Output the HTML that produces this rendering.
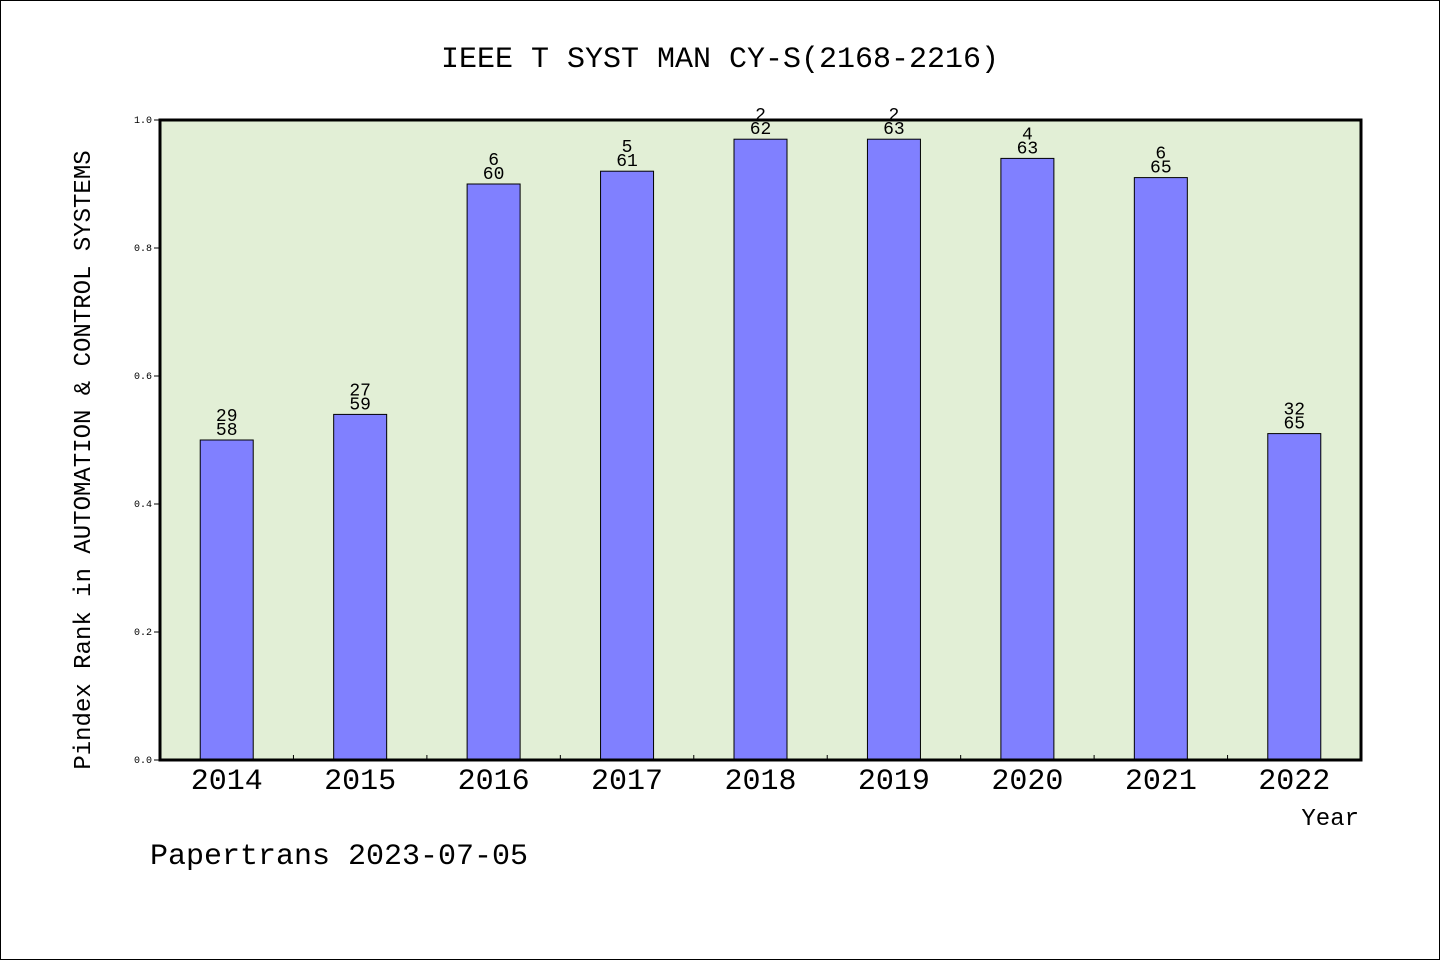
<!DOCTYPE html>
<html><head><meta charset="utf-8"><style>
html,body{margin:0;padding:0;background:#fff}
svg{display:block}
text{font-family:"WenQuanYi Zen Hei","Liberation Mono",monospace}
</style></head><body>
<svg id="c" width="1440" height="960" xmlns="http://www.w3.org/2000/svg">
<rect x="0.5" y="0.5" width="1439" height="959" fill="#fff" stroke="#000"/>
<text x="720" y="67" font-size="30" text-anchor="middle">IEEE T SYST MAN CY-S(2168-2216)</text>
<rect x="160" y="120" width="1201" height="640" fill="#e2efd6"/>
<g id="bars"></g>
<rect x="160" y="120" width="1201" height="640" fill="none" stroke="#000" stroke-width="3"/>
<text x="90" y="460" font-size="24" text-anchor="middle" transform="rotate(-90 90 460)">Pindex Rank in AUTOMATION &amp; CONTROL SYSTEMS</text>
<text x="1359" y="825" font-size="24" text-anchor="end">Year</text>
<text x="150" y="864" font-size="30">Papertrans 2023-07-05</text>
</svg>
<script>
const years = ["2014","2015","2016","2017","2018","2019","2020","2021","2022"];
const values = [0.5,0.54,0.9,0.92,0.97,0.97,0.94,0.91,0.51];
const ranks = ["29","27","6","5","2","2","4","6","32"];
const totals = ["58","59","60","61","62","63","63","65","65"];
const yTicks = ["0.0","0.2","0.4","0.6","0.8","1.0"];
const X0=160,W=1201,Y0=760,H=640;
const ns="http://www.w3.org/2000/svg";
const g=document.getElementById('bars');
const svg=document.getElementById('c');
const step=W/years.length;
function xc(i){return X0+step*(i+0.5);}
function y(v){return Y0-v*H;}
function mk(tag,attrs,parent){const e=document.createElementNS(ns,tag);for(const k in attrs)e.setAttribute(k,attrs[k]);(parent||svg).appendChild(e);return e;}
yTicks.forEach(t=>{const v=parseFloat(t);
 const l=mk('line',{x1:X0-6,x2:X0,y1:y(v),y2:y(v),stroke:'#000'});
 
 
 const tx=mk('text',{x:X0-8,y:y(v)+3,'font-size':10,'text-anchor':'end'});tx.textContent=t;
 
 
});
years.forEach((yr,i)=>{
 const cx=xc(i),top=y(values[i]);
 const r=mk('rect',{x:cx-26.5,y:top,width:53,height:Y0-top,fill:'#8080ff',stroke:'#000','stroke-width':1},g);
 
 
 const a=mk('text',{x:cx,y:top-19,'font-size':18,'text-anchor':'middle'},g);a.textContent=ranks[i];
 
 
 const b=mk('text',{x:cx,y:top-5,'font-size':18,'text-anchor':'middle'},g);b.textContent=totals[i];
 
 
 const xl=mk('text',{x:cx,y:789,'font-size':30,'text-anchor':'middle'});xl.textContent=yr;
 
 
 if(i>0){const t=mk('line',{x1:X0+step*i,x2:X0+step*i,y1:Y0,y2:Y0-5,stroke:'#000'},g);
  
  }
});
</script>
</body></html>
